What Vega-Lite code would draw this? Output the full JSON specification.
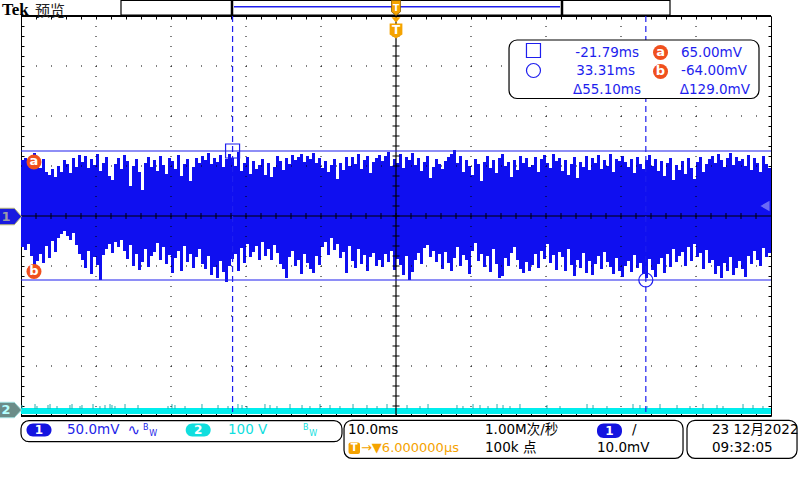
{
"$schema": "https://vega.github.io/schema/vega-lite/v6.json",
"width": 750, "height": 400,
"autosize": {"type": "none"},
"padding": {"left": 21, "top": 16, "right": 29, "bottom": 64},
"background": "white",
"config": {"view": {"stroke": "#000", "strokeWidth": 1}},
"datasets": {
"wave": [
{"t":-49.8,"h":56,"l":-31},{"t":-49.4,"h":58,"l":-34},{"t":-49.0,"h":52,"l":-28},{"t":-48.6,"h":60,"l":-40},{"t":-48.2,"h":63,"l":-51},{"t":-47.8,"h":55,"l":-45},{"t":-47.4,"h":48,"l":-38},{"t":-47.0,"h":57,"l":-47},{"t":-46.6,"h":44,"l":-30},{"t":-46.2,"h":41,"l":-42},
{"t":-45.8,"h":47,"l":-25},{"t":-45.4,"h":39,"l":-36},{"t":-45.0,"h":50,"l":-22},{"t":-44.6,"h":44,"l":-18},{"t":-44.2,"h":56,"l":-15},{"t":-43.8,"h":52,"l":-20},{"t":-43.4,"h":43,"l":-24},{"t":-43.0,"h":58,"l":-17},{"t":-42.6,"h":49,"l":-29},{"t":-42.2,"h":61,"l":-38},
{"t":-41.8,"h":54,"l":-44},{"t":-41.4,"h":60,"l":-52},{"t":-41.0,"h":48,"l":-35},{"t":-40.6,"h":57,"l":-58},{"t":-40.2,"h":51,"l":-41},{"t":-39.8,"h":62,"l":-49},{"t":-39.4,"h":45,"l":-64},{"t":-39.0,"h":53,"l":-39},{"t":-38.6,"h":59,"l":-33},{"t":-38.2,"h":40,"l":-28},
{"t":-37.8,"h":36,"l":-37},{"t":-37.4,"h":52,"l":-26},{"t":-37.0,"h":58,"l":-31},{"t":-36.6,"h":47,"l":-24},{"t":-36.2,"h":61,"l":-35},{"t":-35.8,"h":55,"l":-43},{"t":-35.4,"h":30,"l":-29},{"t":-35.0,"h":50,"l":-50},{"t":-34.6,"h":57,"l":-38},{"t":-34.2,"h":44,"l":-54},
{"t":-33.8,"h":26,"l":-46},{"t":-33.4,"h":53,"l":-33},{"t":-33.0,"h":59,"l":-51},{"t":-32.6,"h":49,"l":-40},{"t":-32.2,"h":56,"l":-36},{"t":-31.8,"h":45,"l":-27},{"t":-31.4,"h":60,"l":-44},{"t":-31.0,"h":51,"l":-31},{"t":-30.6,"h":42,"l":-48},{"t":-30.2,"h":58,"l":-39},
{"t":-29.8,"h":55,"l":-57},{"t":-29.4,"h":47,"l":-42},{"t":-29.0,"h":61,"l":-35},{"t":-28.6,"h":40,"l":-55},{"t":-28.2,"h":52,"l":-30},{"t":-27.8,"h":57,"l":-46},{"t":-27.4,"h":35,"l":-38},{"t":-27.0,"h":49,"l":-52},{"t":-26.6,"h":58,"l":-41},{"t":-26.2,"h":53,"l":-33},
{"t":-25.8,"h":60,"l":-48},{"t":-25.4,"h":56,"l":-53},{"t":-25.0,"h":63,"l":-40},{"t":-24.6,"h":52,"l":-59},{"t":-24.2,"h":58,"l":-51},{"t":-23.8,"h":54,"l":-62},{"t":-23.4,"h":61,"l":-45},{"t":-23.0,"h":49,"l":-56},{"t":-22.6,"h":57,"l":-66},{"t":-22.2,"h":62,"l":-50},
{"t":-21.8,"h":58,"l":-43},{"t":-21.4,"h":50,"l":-38},{"t":-21.0,"h":64,"l":-55},{"t":-20.6,"h":45,"l":-32},{"t":-20.2,"h":53,"l":-47},{"t":-19.8,"h":59,"l":-28},{"t":-19.4,"h":42,"l":-41},{"t":-19.0,"h":55,"l":-36},{"t":-18.6,"h":47,"l":-30},{"t":-18.2,"h":51,"l":-44},
{"t":-17.8,"h":57,"l":-26},{"t":-17.4,"h":41,"l":-40},{"t":-17.0,"h":53,"l":-33},{"t":-16.6,"h":39,"l":-44},{"t":-16.2,"h":49,"l":-29},{"t":-15.8,"h":60,"l":-37},{"t":-15.4,"h":55,"l":-48},{"t":-15.0,"h":46,"l":-53},{"t":-14.6,"h":58,"l":-62},{"t":-14.2,"h":52,"l":-41},
{"t":-13.8,"h":61,"l":-35},{"t":-13.4,"h":56,"l":-50},{"t":-13.0,"h":59,"l":-44},{"t":-12.6,"h":62,"l":-58},{"t":-12.2,"h":54,"l":-38},{"t":-11.8,"h":60,"l":-47},{"t":-11.4,"h":57,"l":-53},{"t":-11.0,"h":63,"l":-57},{"t":-10.6,"h":53,"l":-40},{"t":-10.2,"h":58,"l":-49},
{"t":-9.8,"h":48,"l":-31},{"t":-9.4,"h":55,"l":-26},{"t":-9.0,"h":44,"l":-39},{"t":-8.6,"h":51,"l":-22},{"t":-8.2,"h":57,"l":-34},{"t":-7.8,"h":37,"l":-28},{"t":-7.4,"h":53,"l":-42},{"t":-7.0,"h":46,"l":-36},{"t":-6.6,"h":59,"l":-57},{"t":-6.2,"h":50,"l":-30},
{"t":-5.8,"h":59,"l":-45},{"t":-5.4,"h":52,"l":-52},{"t":-5.0,"h":62,"l":-33},{"t":-4.6,"h":47,"l":-48},{"t":-4.2,"h":56,"l":-39},{"t":-3.8,"h":60,"l":-55},{"t":-3.4,"h":43,"l":-41},{"t":-3.0,"h":54,"l":-37},{"t":-2.6,"h":58,"l":-50},{"t":-2.2,"h":61,"l":-44},
{"t":-1.8,"h":55,"l":-51},{"t":-1.4,"h":60,"l":-38},{"t":-1.0,"h":64,"l":-46},{"t":-0.6,"h":50,"l":-35},{"t":-0.2,"h":57,"l":-54},{"t":0.2,"h":53,"l":-43},{"t":0.6,"h":62,"l":-49},{"t":1.0,"h":48,"l":-59},{"t":1.4,"h":59,"l":-40},{"t":1.8,"h":56,"l":-64},
{"t":2.2,"h":63,"l":-56},{"t":2.6,"h":51,"l":-44},{"t":3.0,"h":58,"l":-37},{"t":3.4,"h":45,"l":-48},{"t":3.8,"h":54,"l":-32},{"t":4.2,"h":60,"l":-29},{"t":4.6,"h":38,"l":-41},{"t":5.0,"h":49,"l":-35},{"t":5.4,"h":57,"l":-46},{"t":5.8,"h":52,"l":-38},
{"t":6.2,"h":47,"l":-53},{"t":6.6,"h":55,"l":-36},{"t":7.0,"h":59,"l":-47},{"t":7.4,"h":62,"l":-55},{"t":7.8,"h":66,"l":-42},{"t":8.2,"h":53,"l":-31},{"t":8.6,"h":60,"l":-50},{"t":9.0,"h":44,"l":-39},{"t":9.4,"h":56,"l":-44},{"t":9.8,"h":50,"l":-58},
{"t":10.2,"h":41,"l":-35},{"t":10.6,"h":57,"l":-27},{"t":11.0,"h":52,"l":-45},{"t":11.4,"h":35,"l":-38},{"t":11.8,"h":54,"l":-51},{"t":12.2,"h":60,"l":-40},{"t":12.6,"h":48,"l":-56},{"t":13.0,"h":56,"l":-33},{"t":13.4,"h":43,"l":-48},{"t":13.8,"h":58,"l":-62},
{"t":14.2,"h":62,"l":-60},{"t":14.6,"h":50,"l":-42},{"t":15.0,"h":54,"l":-50},{"t":15.4,"h":39,"l":-37},{"t":15.8,"h":56,"l":-31},{"t":16.2,"h":46,"l":-44},{"t":16.6,"h":60,"l":-53},{"t":17.0,"h":53,"l":-57},{"t":17.4,"h":58,"l":-46},{"t":17.8,"h":49,"l":-55},
{"t":18.2,"h":51,"l":-49},{"t":18.6,"h":59,"l":-38},{"t":19.0,"h":44,"l":-52},{"t":19.4,"h":57,"l":-35},{"t":19.8,"h":61,"l":-43},{"t":20.2,"h":53,"l":-28},{"t":20.6,"h":48,"l":-47},{"t":21.0,"h":62,"l":-39},{"t":21.4,"h":55,"l":-54},{"t":21.8,"h":58,"l":-36},
{"t":22.2,"h":45,"l":-41},{"t":22.6,"h":56,"l":-55},{"t":23.0,"h":41,"l":-33},{"t":23.4,"h":52,"l":-49},{"t":23.8,"h":59,"l":-60},{"t":24.2,"h":38,"l":-44},{"t":24.6,"h":54,"l":-52},{"t":25.0,"h":49,"l":-37},{"t":25.4,"h":60,"l":-57},{"t":25.8,"h":46,"l":-45},
{"t":26.2,"h":58,"l":-59},{"t":26.6,"h":53,"l":-48},{"t":27.0,"h":61,"l":-40},{"t":27.4,"h":47,"l":-53},{"t":27.8,"h":56,"l":-36},{"t":28.2,"h":50,"l":-46},{"t":28.6,"h":62,"l":-51},{"t":29.0,"h":44,"l":-58},{"t":29.4,"h":57,"l":-42},{"t":29.8,"h":55,"l":-55},
{"t":30.2,"h":60,"l":-61},{"t":30.6,"h":54,"l":-50},{"t":31.0,"h":49,"l":-45},{"t":31.4,"h":57,"l":-56},{"t":31.8,"h":43,"l":-39},{"t":32.2,"h":59,"l":-52},{"t":32.6,"h":52,"l":-47},{"t":33.0,"h":47,"l":-58},{"t":33.4,"h":56,"l":-62},{"t":33.8,"h":61,"l":-43},
{"t":34.2,"h":50,"l":-54},{"t":34.6,"h":57,"l":-61},{"t":35.0,"h":45,"l":-48},{"t":35.4,"h":55,"l":-42},{"t":35.8,"h":40,"l":-57},{"t":36.2,"h":53,"l":-38},{"t":36.6,"h":58,"l":-51},{"t":37.0,"h":36,"l":-33},{"t":37.4,"h":51,"l":-46},{"t":37.8,"h":46,"l":-40},
{"t":38.2,"h":55,"l":-36},{"t":38.6,"h":42,"l":-50},{"t":39.0,"h":58,"l":-31},{"t":39.4,"h":48,"l":-45},{"t":39.8,"h":37,"l":-28},{"t":40.2,"h":54,"l":-41},{"t":40.6,"h":59,"l":-37},{"t":41.0,"h":44,"l":-53},{"t":41.4,"h":52,"l":-34},{"t":41.8,"h":57,"l":-47},
{"t":42.2,"h":60,"l":-44},{"t":42.6,"h":53,"l":-58},{"t":43.0,"h":62,"l":-50},{"t":43.4,"h":56,"l":-62},{"t":43.8,"h":49,"l":-47},{"t":44.2,"h":58,"l":-55},{"t":44.6,"h":63,"l":-41},{"t":45.0,"h":51,"l":-59},{"t":45.4,"h":59,"l":-52},{"t":45.8,"h":55,"l":-45},
{"t":46.2,"h":57,"l":-53},{"t":46.6,"h":50,"l":-61},{"t":47.0,"h":61,"l":-40},{"t":47.4,"h":46,"l":-48},{"t":47.8,"h":58,"l":-35},{"t":48.2,"h":53,"l":-44},{"t":48.6,"h":44,"l":-50},{"t":49.0,"h":60,"l":-32},{"t":49.4,"h":52,"l":-41},{"t":49.8,"h":48,"l":-37}
],
"spk": [
{"t":-49.87,"v":-189},{"t":-48.13,"v":-188},{"t":-47.87,"v":-190},{"t":-46.4,"v":-189},{"t":-46.13,"v":-188},{"t":-45.2,"v":-190},{"t":-43.47,"v":-189},{"t":-43.2,"v":-188},{"t":-42.13,"v":-190},{"t":-41.87,"v":-189},
{"t":-40.4,"v":-188},{"t":-39.47,"v":-190},{"t":-38.8,"v":-189},{"t":-38.13,"v":-188},{"t":-37.87,"v":-189},{"t":-37.47,"v":-190},{"t":-36.13,"v":-188},{"t":-34.4,"v":-189},{"t":-30.4,"v":-190},{"t":-29.87,"v":-188},
{"t":-29.47,"v":-189},{"t":-28.13,"v":-190},{"t":-25.87,"v":-188},{"t":-23.73,"v":-189},{"t":-22.4,"v":-190},{"t":-21.07,"v":-188},{"t":-20.53,"v":-189},{"t":-19.87,"v":-190},{"t":-17.47,"v":-188},{"t":-16.8,"v":-189},
{"t":-15.87,"v":-190},{"t":-14.13,"v":-188},{"t":-12.53,"v":-189},{"t":-11.47,"v":-190},{"t":-10.13,"v":-188},{"t":-8.8,"v":-189},{"t":-7.47,"v":-190},{"t":-5.73,"v":-188},{"t":-3.87,"v":-189},{"t":-2.53,"v":-190},
{"t":-1.2,"v":-188},{"t":1.47,"v":-189},{"t":3.2,"v":-190},{"t":4.27,"v":-188},{"t":8.13,"v":-189},{"t":8.93,"v":-190},{"t":10.27,"v":-188},{"t":11.2,"v":-189},{"t":12.27,"v":-190},{"t":13.47,"v":-188},
{"t":14.27,"v":-189},{"t":15.2,"v":-190},{"t":16.53,"v":-188},{"t":20.13,"v":-189},{"t":21.87,"v":-190},{"t":25.47,"v":-188},{"t":26.27,"v":-189},{"t":28.13,"v":-190},{"t":31.6,"v":-188},{"t":32.53,"v":-189},
{"t":33.47,"v":-190},{"t":35.2,"v":-188},{"t":37.47,"v":-189},{"t":39.2,"v":-190},{"t":40.93,"v":-188},{"t":42.8,"v":-189},{"t":43.6,"v":-190},{"t":46.27,"v":-188},{"t":47.6,"v":-189},{"t":48.93,"v":-190}
],
"tx": [{"t":-48},{"t":-46},{"t":-44},{"t":-42},{"t":-40},{"t":-38},{"t":-36},{"t":-34},{"t":-32},{"t":-30},{"t":-28},{"t":-26},{"t":-24},{"t":-22},{"t":-20},{"t":-18},{"t":-16},{"t":-14},{"t":-12},{"t":-10},{"t":-8},{"t":-6},{"t":-4},{"t":-2},{"t":0},{"t":2},{"t":4},{"t":6},{"t":8},{"t":10},{"t":12},{"t":14},{"t":16},{"t":18},{"t":20},{"t":22},{"t":24},{"t":26},{"t":28},{"t":30},{"t":32},{"t":34},{"t":36},{"t":38},{"t":40},{"t":42},{"t":44},{"t":46},{"t":48}],
"ty": [{"v":-190},{"v":-180},{"v":-170},{"v":-160},{"v":-150},{"v":-140},{"v":-130},{"v":-120},{"v":-110},{"v":-100},{"v":-90},{"v":-80},{"v":-70},{"v":-60},{"v":-50},{"v":-40},{"v":-30},{"v":-20},{"v":-10},{"v":0},{"v":10},{"v":20},{"v":30},{"v":40},{"v":50},{"v":60},{"v":70},{"v":80},{"v":90},{"v":100},{"v":110},{"v":120},{"v":130},{"v":140},{"v":150},{"v":160},{"v":170},{"v":180},{"v":190}]
},
"layer": [
{"data":{"name":"wave"},"mark":{"type":"rule","strokeWidth":3,"color":"#0f0ff0"},
 "encoding":{"x":{"field":"t","type":"quantitative","scale":{"domain":[-50,50],"nice":false,"zero":false},"axis":null},
 "y":{"field":"h","type":"quantitative","scale":{"domain":[-200,200],"nice":false,"zero":false},"axis":null},
 "y2":{"field":"l"}}},
{"data":{"values":[{"t1":-50,"t2":50,"v1":-192,"v2":-198}]},"mark":{"type":"rect","color":"#00eeee"},
 "encoding":{"x":{"field":"t1","type":"quantitative","axis":null},"x2":{"field":"t2"},"y":{"field":"v1","type":"quantitative","axis":null},"y2":{"field":"v2"}}},
{"data":{"name":"spk"},"mark":{"type":"rule","color":"#22b0b0","strokeWidth":1},
 "encoding":{"x":{"field":"t","type":"quantitative","axis":null},"y":{"field":"v","type":"quantitative","axis":null},"y2":{"datum":-193}}},
{"data":{"values":[{"t":-40},{"t":-30},{"t":-20},{"t":-10},{"t":10},{"t":20},{"t":30},{"t":40}]},
 "mark":{"type":"rule","color":"#000","strokeWidth":1,"strokeDash":[1,9]},
 "encoding":{"x":{"field":"t","type":"quantitative","axis":{"orient":"top","values":[-48,-46,-44,-42,-40,-38,-36,-34,-32,-30,-28,-26,-24,-22,-20,-18,-16,-14,-12,-10,-8,-6,-4,-2,0,2,4,6,8,10,12,14,16,18,20,22,24,26,28,30,32,34,36,38,40,42,44,46,48],"tickSize":-3,"labels":false,"domain":false,"grid":false,"title":null,"ticks":true,"tickColor":"#000"}},
 "y":{"datum":200,"type":"quantitative","axis":null},"y2":{"datum":-200}}},
{"data":{"values":[{"v":-150},{"v":-100},{"v":-50},{"v":50},{"v":100},{"v":150}]},
 "mark":{"type":"rule","color":"#000","strokeWidth":1,"strokeDash":[1,14]},
 "encoding":{"y":{"field":"v","type":"quantitative","axis":{"orient":"left","values":[-190,-180,-170,-160,-150,-140,-130,-120,-110,-100,-90,-80,-70,-60,-50,-40,-30,-20,-10,0,10,20,30,40,50,60,70,80,90,100,110,120,130,140,150,160,170,180,190],"tickSize":-3,"labels":false,"domain":false,"grid":false,"title":null,"ticks":true,"tickColor":"#000"}},
 "x":{"datum":-50,"type":"quantitative","axis":null},"x2":{"datum":50}}},
{"data":{"values":[{"t":0}]},"mark":{"type":"rule","color":"#000","strokeWidth":1.2},
 "encoding":{"x":{"field":"t","type":"quantitative","axis":null},"y":{"datum":200,"type":"quantitative","axis":null},"y2":{"datum":-200}}},
{"data":{"values":[{"v":0}]},"mark":{"type":"rule","color":"#000","strokeWidth":1.2},
 "encoding":{"y":{"field":"v","type":"quantitative","axis":null},"x":{"datum":-50,"type":"quantitative","axis":null},"x2":{"datum":50}}},
{"data":{"name":"tx"},"mark":{"type":"tick","orient":"vertical","size":6,"thickness":1,"color":"#000","opacity":1},
 "encoding":{"x":{"field":"t","type":"quantitative","axis":{"orient":"bottom","values":[-48,-46,-44,-42,-40,-38,-36,-34,-32,-30,-28,-26,-24,-22,-20,-18,-16,-14,-12,-10,-8,-6,-4,-2,0,2,4,6,8,10,12,14,16,18,20,22,24,26,28,30,32,34,36,38,40,42,44,46,48],"tickSize":-3,"labels":false,"domain":false,"grid":false,"title":null,"ticks":true,"tickColor":"#000"}},
 "y":{"datum":0,"type":"quantitative","axis":null}}},
{"data":{"name":"ty"},"mark":{"type":"tick","orient":"horizontal","size":7,"thickness":1,"color":"#000","opacity":1},
 "encoding":{"y":{"field":"v","type":"quantitative","axis":{"orient":"right","values":[-190,-180,-170,-160,-150,-140,-130,-120,-110,-100,-90,-80,-70,-60,-50,-40,-30,-20,-10,0,10,20,30,40,50,60,70,80,90,100,110,120,130,140,150,160,170,180,190],"tickSize":-3,"labels":false,"domain":false,"grid":false,"title":null,"ticks":true,"tickColor":"#000"}},
 "x":{"datum":0,"type":"quantitative","axis":null}}},
{"data":{"values":[{"v":200},{"v":-200}]},"mark":{"type":"rule","color":"#000","strokeWidth":2},
 "encoding":{"y":{"field":"v","type":"quantitative","axis":null},"x":{"datum":-50,"type":"quantitative","axis":null},"x2":{"datum":50}}},
{"data":{"values":[{"v":65},{"v":-64}]},"mark":{"type":"rule","color":"#1e1eee","strokeWidth":1.2},
 "encoding":{"y":{"field":"v","type":"quantitative","axis":null},"x":{"datum":-50,"type":"quantitative","axis":null},"x2":{"datum":50}}},
{"data":{"values":[{"t":-21.79},{"t":33.31}]},"mark":{"type":"rule","color":"#1e1eee","strokeWidth":1.2,"strokeDash":[6,4]},
 "encoding":{"x":{"field":"t","type":"quantitative","axis":null},"y":{"datum":200,"type":"quantitative","axis":null},"y2":{"datum":-200}}},
{"data":{"values":[{"t":-21.79,"v":65}]},"mark":{"type":"point","shape":"square","filled":false,"size":196,"color":"#1e1eee","strokeWidth":1.2,"opacity":1},
 "encoding":{"x":{"field":"t","type":"quantitative","axis":null},"y":{"field":"v","type":"quantitative","axis":null}}},
{"data":{"values":[{"t":33.31,"v":-64}]},"mark":{"type":"point","shape":"circle","filled":false,"size":196,"color":"#1e1eee","strokeWidth":1.2,"opacity":1},
 "encoding":{"x":{"field":"t","type":"quantitative","axis":null},"y":{"field":"v","type":"quantitative","axis":null}}},
{"data":{"values":[{"t":49.2,"v":10}]},"mark":{"type":"point","shape":"triangle-left","filled":true,"size":110,"color":"#8a8af8","opacity":0.75},
 "encoding":{"x":{"field":"t","type":"quantitative","axis":null},"y":{"field":"v","type":"quantitative","axis":null}}},
{"data":{"values":[{"t1":15.07,"t2":48.4,"v1":176,"v2":117.5}]},"mark":{"type":"rect","fill":"#fff","stroke":"#000","strokeWidth":1.2,"cornerRadius":8},
 "encoding":{"x":{"field":"t1","type":"quantitative","axis":null},"x2":{"field":"t2"},"y":{"field":"v1","type":"quantitative","axis":null},"y2":{"field":"v2"}}},
{"data":{"values":[{"t":18.33,"v":165.5}]},"mark":{"type":"point","shape":"square","filled":false,"size":196,"color":"#1e1eee","strokeWidth":1.2,"opacity":1},
 "encoding":{"x":{"field":"t","type":"quantitative","axis":null},"y":{"field":"v","type":"quantitative","axis":null}}},
{"data":{"values":[{"t":18.33,"v":145.5}]},"mark":{"type":"point","shape":"circle","filled":false,"size":196,"color":"#1e1eee","strokeWidth":1.2,"opacity":1},
 "encoding":{"x":{"field":"t","type":"quantitative","axis":null},"y":{"field":"v","type":"quantitative","axis":null}}},
{"data":{"values":[{"t":-48.27,"v":54,"s":"a"},{"t":-48.27,"v":-55.5,"s":"b"},{"t":35.27,"v":163.5,"s":"a"},{"t":35.27,"v":144.5,"s":"b"}]},
 "layer":[
 {"mark":{"type":"point","shape":"circle","filled":true,"size":225,"color":"#f0501e","opacity":1},
  "encoding":{"x":{"field":"t","type":"quantitative","axis":null},"y":{"field":"v","type":"quantitative","axis":null}}},
 {"mark":{"type":"text","color":"#fff","font":"DejaVu Sans","fontSize":13,"fontWeight":"bold","baseline":"middle","align":"center","dy":-1},
  "encoding":{"x":{"field":"t","type":"quantitative","axis":null},"y":{"field":"v","type":"quantitative","axis":null},"text":{"field":"s"}}}
 ]},
{"data":{"values":[{"t":32.4,"v":163,"s":"-21.79ms"},{"t":31.87,"v":145,"s":"33.31ms"},{"t":32.67,"v":126,"s":"Δ55.10ms"},{"t":46.13,"v":163,"s":"65.00mV"},{"t":46.8,"v":145,"s":"-64.00mV"},{"t":47.2,"v":126,"s":"Δ129.0mV"}]},
 "mark":{"type":"text","color":"#1e1eee","font":"DejaVu Sans","fontSize":13.5,"baseline":"middle","align":"right"},
 "encoding":{"x":{"field":"t","type":"quantitative","axis":null},"y":{"field":"v","type":"quantitative","axis":null},"text":{"field":"s"}}},
{"data":{"values":[{"t1":-36.667,"t2":36.533,"v1":215.5,"v2":201}]},"mark":{"type":"rect","fill":"#fff","stroke":"#000","strokeWidth":1.2},
 "encoding":{"x":{"field":"t1","type":"quantitative","axis":null},"x2":{"field":"t2"},"y":{"field":"v1","type":"quantitative","axis":null},"y2":{"field":"v2"}}},
{"data":{"values":[{"t1":-21.6,"t2":21.87,"v":209.3}]},"mark":{"type":"rule","color":"#1e1eee","strokeWidth":1.5},
 "encoding":{"x":{"field":"t1","type":"quantitative","axis":null},"x2":{"field":"t2"},"y":{"field":"v","type":"quantitative","axis":null}}},
{"data":{"values":[{"t":-21.867},{"t":22.133}]},"mark":{"type":"rule","color":"#000","strokeWidth":2.5},
 "encoding":{"x":{"field":"t","type":"quantitative","axis":null},"y":{"datum":215.5,"type":"quantitative","axis":null},"y2":{"datum":201}}},
{"data":{"values":[{"t":0,"v":208}]},"mark":{"type":"point","shape":"M-0.6,-1L0.6,-1L0.6,0.5L0,1L-0.6,0.5Z","filled":true,"size":225,"color":"#f5a300","stroke":"#8a5a00","strokeWidth":0.8,"opacity":1},
 "encoding":{"x":{"field":"t","type":"quantitative","axis":null},"y":{"field":"v","type":"quantitative","axis":null}}},
{"data":{"values":[{"t":0,"v":196}]},"mark":{"type":"point","shape":"M-1,-0.6L1,-0.6L0,0.6Z","filled":true,"size":81,"color":"#f5a300","opacity":1},
 "encoding":{"x":{"field":"t","type":"quantitative","axis":null},"y":{"field":"v","type":"quantitative","axis":null}}},
{"data":{"values":[{"t":0,"v":185}]},"mark":{"type":"point","shape":"M-0.85,-1L0.85,-1L0.85,0.45L0,1L-0.85,0.45Z","filled":true,"size":225,"color":"#f5a300","opacity":1},
 "encoding":{"x":{"field":"t","type":"quantitative","axis":null},"y":{"field":"v","type":"quantitative","axis":null}}},
{"data":{"values":[{"t":0,"v":186,"s":"T"}]},"mark":{"type":"text","color":"#fff","font":"DejaVu Sans","fontSize":12,"fontWeight":"bold","baseline":"middle","align":"center"},
 "encoding":{"x":{"field":"t","type":"quantitative","axis":null},"y":{"field":"v","type":"quantitative","axis":null},"text":{"field":"s"}}},
{"data":{"values":[{"t":0,"v":208.5,"s":"T"}]},"mark":{"type":"text","color":"#fff","font":"DejaVu Sans","fontSize":9,"fontWeight":"bold","baseline":"middle","align":"center"},
 "encoding":{"x":{"field":"t","type":"quantitative","axis":null},"y":{"field":"v","type":"quantitative","axis":null},"text":{"field":"s"}}},
{"data":{"values":[{"t":-52.53,"v":206,"s":"Tek"}]},"mark":{"type":"text","color":"#000","font":"Liberation Serif","fontSize":17,"fontWeight":"bold","baseline":"middle","align":"left"},
 "encoding":{"x":{"field":"t","type":"quantitative","axis":null},"y":{"field":"v","type":"quantitative","axis":null},"text":{"field":"s"}}},
{"data":{"values":[{"t":-48.13,"v":205,"s":"预览"}]},"mark":{"type":"text","color":"#222","font":"Noto Sans CJK SC","fontSize":15,"baseline":"middle","align":"left"},
 "encoding":{"x":{"field":"t","type":"quantitative","axis":null},"y":{"field":"v","type":"quantitative","axis":null},"text":{"field":"s"}}},
{"data":{"values":[{"t":-51.4,"v":-0.5}]},"mark":{"type":"point","shape":"M-1,-0.75L0.35,-0.75L1,0L0.35,0.75L-1,0.75Z","filled":true,"size":484,"color":"#1a1ae0","stroke":"#b8b878","strokeWidth":1,"opacity":1},
 "encoding":{"x":{"field":"t","type":"quantitative","axis":null},"y":{"field":"v","type":"quantitative","axis":null}}},
{"data":{"values":[{"t":-51.4,"v":-194}]},"mark":{"type":"point","shape":"M-1,-0.7L0.35,-0.7L1,0L0.35,0.7L-1,0.7Z","filled":true,"size":484,"color":"#6b8c88","stroke":"#9fdede","strokeWidth":1,"opacity":1},
 "encoding":{"x":{"field":"t","type":"quantitative","axis":null},"y":{"field":"v","type":"quantitative","axis":null}}},
{"data":{"values":[{"t":-52.0,"v":-0.5,"s":"1"}]},"mark":{"type":"text","color":"#9a9aa8","font":"DejaVu Sans","fontSize":13,"fontWeight":"bold","baseline":"middle","align":"center"},
 "encoding":{"x":{"field":"t","type":"quantitative","axis":null},"y":{"field":"v","type":"quantitative","axis":null},"text":{"field":"s"}}},
{"data":{"values":[{"t":-52.0,"v":-194,"s":"2"}]},"mark":{"type":"text","color":"#b4ffff","font":"DejaVu Sans","fontSize":13,"fontWeight":"bold","baseline":"middle","align":"center"},
 "encoding":{"x":{"field":"t","type":"quantitative","axis":null},"y":{"field":"v","type":"quantitative","axis":null},"text":{"field":"s"}}},
{"data":{"values":[{"t1":-50,"t2":-7.2,"v1":-204.7,"v2":-225.7},{"t1":-6.93,"t2":38.27,"v1":-204.3,"v2":-242.3},{"t1":38.8,"t2":53.47,"v1":-204.3,"v2":-242.3}]},
 "mark":{"type":"rect","fill":"#fff","stroke":"#000","strokeWidth":1.2,"cornerRadius":8},
 "encoding":{"x":{"field":"t1","type":"quantitative","axis":null},"x2":{"field":"t2"},"y":{"field":"v1","type":"quantitative","axis":null},"y2":{"field":"v2"}}},
{"data":{"values":[{"t1":-49.27,"t2":-45.93,"v1":-207.5,"v2":-220.5},{"t1":26.8,"t2":30.13,"v1":-207.5,"v2":-222}]},
 "mark":{"type":"rect","fill":"#1414e0","cornerRadius":6.5},
 "encoding":{"x":{"field":"t1","type":"quantitative","axis":null},"x2":{"field":"t2"},"y":{"field":"v1","type":"quantitative","axis":null},"y2":{"field":"v2"}}},
{"data":{"values":[{"t1":-28.04,"t2":-24.71,"v1":-207.5,"v2":-220.5}]},
 "mark":{"type":"rect","fill":"#10dede","cornerRadius":6.5},
 "encoding":{"x":{"field":"t1","type":"quantitative","axis":null},"x2":{"field":"t2"},"y":{"field":"v1","type":"quantitative","axis":null},"y2":{"field":"v2"}}},
{"data":{"values":[{"t1":-6.33,"t2":-4.8,"v1":-226.5,"v2":-238}]},
 "mark":{"type":"rect","fill":"#f5a300","cornerRadius":2},
 "encoding":{"x":{"field":"t1","type":"quantitative","axis":null},"x2":{"field":"t2"},"y":{"field":"v1","type":"quantitative","axis":null},"y2":{"field":"v2"}}},
{"data":{"values":[{"t":-47.6,"v":-214,"s":"1"},{"t":-26.37,"v":-214,"s":"2"},{"t":28.47,"v":-214.7,"s":"1"}]},
 "mark":{"type":"text","color":"#fff","font":"DejaVu Sans","fontSize":12,"fontWeight":"bold","baseline":"middle","align":"center"},
 "encoding":{"x":{"field":"t","type":"quantitative","axis":null},"y":{"field":"v","type":"quantitative","axis":null},"text":{"field":"s"}}},
{"data":{"values":[{"t":-5.57,"v":-232.3,"s":"T"}]},
 "mark":{"type":"text","color":"#fff","font":"DejaVu Sans","fontSize":10,"fontWeight":"bold","baseline":"middle","align":"center"},
 "encoding":{"x":{"field":"t","type":"quantitative","axis":null},"y":{"field":"v","type":"quantitative","axis":null},"text":{"field":"s"}}},
{"data":{"values":[{"t":-43.87,"v":-214,"s":"50.0mV"}]},
 "mark":{"type":"text","color":"#2424e8","font":"DejaVu Sans","fontSize":13.5,"baseline":"middle","align":"left"},
 "encoding":{"x":{"field":"t","type":"quantitative","axis":null},"y":{"field":"v","type":"quantitative","axis":null},"text":{"field":"s"}}},
{"data":{"values":[{"t":-35.8,"v":-214,"s":"∿"}]},
 "mark":{"type":"text","color":"#2424e8","font":"DejaVu Sans","fontSize":15,"baseline":"middle","align":"left"},
 "encoding":{"x":{"field":"t","type":"quantitative","axis":null},"y":{"field":"v","type":"quantitative","axis":null},"text":{"field":"s"}}},
{"data":{"values":[{"t":-33.73,"v":-211.5,"s":"B"},{"t":-32.9,"v":-218,"s":"W"}]},
 "mark":{"type":"text","color":"#2424e8","font":"DejaVu Sans","fontSize":8,"baseline":"middle","align":"left"},
 "encoding":{"x":{"field":"t","type":"quantitative","axis":null},"y":{"field":"v","type":"quantitative","axis":null},"text":{"field":"s"}}},
{"data":{"values":[{"t":-22.4,"v":-214,"s":"100 V"}]},
 "mark":{"type":"text","color":"#10dede","font":"DejaVu Sans","fontSize":13.5,"baseline":"middle","align":"left"},
 "encoding":{"x":{"field":"t","type":"quantitative","axis":null},"y":{"field":"v","type":"quantitative","axis":null},"text":{"field":"s"}}},
{"data":{"values":[{"t":-12.4,"v":-211.5,"s":"B"},{"t":-11.57,"v":-218,"s":"W"}]},
 "mark":{"type":"text","color":"#10dede","font":"DejaVu Sans","fontSize":8,"baseline":"middle","align":"left"},
 "encoding":{"x":{"field":"t","type":"quantitative","axis":null},"y":{"field":"v","type":"quantitative","axis":null},"text":{"field":"s"}}},
{"data":{"values":[{"t":-6.4,"v":-214,"s":"10.0ms"},{"t":11.87,"v":-214,"s":"1.00M次/秒"},{"t":11.87,"v":-232,"s":"100k 点"},{"t":26.8,"v":-232,"s":"10.0mV"},{"t":31.47,"v":-214,"s":"/"},{"t":42.13,"v":-214,"s":"23 12月2022"},{"t":42.13,"v":-232,"s":"09:32:05"}]},
 "mark":{"type":"text","color":"#000","font":"DejaVu Sans, Noto Sans CJK SC","fontSize":13.5,"baseline":"middle","align":"left"},
 "encoding":{"x":{"field":"t","type":"quantitative","axis":null},"y":{"field":"v","type":"quantitative","axis":null},"text":{"field":"s"}}},
{"data":{"values":[{"t":-4.67,"v":-232,"s":"→▼6.000000μs"}]},
 "mark":{"type":"text","color":"#f5a300","font":"DejaVu Sans","fontSize":13,"baseline":"middle","align":"left"},
 "encoding":{"x":{"field":"t","type":"quantitative","axis":null},"y":{"field":"v","type":"quantitative","axis":null},"text":{"field":"s"}}}
]
}
